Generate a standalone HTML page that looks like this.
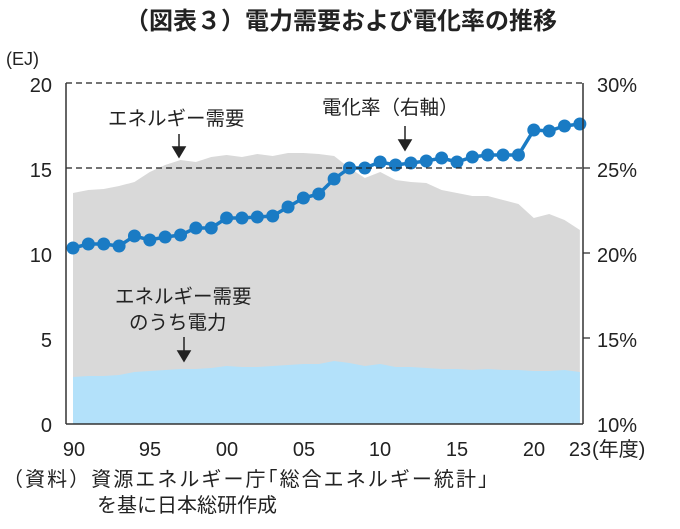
<!DOCTYPE html>
<html><head><meta charset="utf-8"><style>
body{margin:0;background:#fff;}
text{font-family:"Liberation Sans","Noto Sans CJK JP",sans-serif;fill:#222;}
</style></head><body>
<svg id="s" width="680" height="524" xmlns="http://www.w3.org/2000/svg">
<text x="341" y="29" text-anchor="middle" font-size="24" font-weight="bold">（図表３）電力需要および電化率の推移</text>
<text x="6" y="65" font-size="18">(EJ)</text>
<g id="plot"></g>
<line x1="66" y1="83" x2="583" y2="83" stroke="#222" stroke-width="1.3" stroke-dasharray="6,4"/>
<line x1="66" y1="168" x2="583" y2="168" stroke="#222" stroke-width="1.3" stroke-dasharray="6,4"/>
<line x1="66" y1="83" x2="66" y2="424" stroke="#333" stroke-width="1.5"/>
<line x1="583" y1="83" x2="583" y2="424" stroke="#333" stroke-width="1.5"/>
<line x1="66" y1="424" x2="583" y2="424" stroke="#333" stroke-width="1.5"/>
<g font-size="20" text-anchor="end">
<text x="52" y="92">20</text><text x="52" y="177">15</text><text x="52" y="262">10</text><text x="52" y="347">5</text><text x="52" y="432">0</text>
</g>
<g font-size="20">
<text x="597" y="92">30%</text><text x="597" y="177">25%</text><text x="597" y="262">20%</text><text x="597" y="347">15%</text><text x="597" y="432">10%</text>
</g>
<g stroke="#333" stroke-width="1.3">
<line x1="583" y1="168" x2="590" y2="168"/><line x1="583" y1="253" x2="590" y2="253"/><line x1="583" y1="338" x2="590" y2="338"/>
</g>
<g font-size="20" text-anchor="middle">
<text x="74" y="456">90</text><text x="150" y="456">95</text><text x="227" y="456">00</text><text x="304" y="456">05</text><text x="380" y="456">10</text><text x="457" y="456">15</text><text x="534" y="456">20</text><text x="580" y="456">23</text>
</g>
<text x="592" y="456" font-size="20">(年度)</text>
<text x="3" y="486" font-size="20" textLength="485">（資料）資源エネルギー庁｢総合エネルギー統計｣</text>
<text x="97" y="512" font-size="20">を基に日本総研作成</text>
<text x="108" y="125" font-size="19.5">エネルギー需要</text>
<text x="322" y="114" font-size="19.5">電化率（右軸）</text>
<text x="115" y="303" font-size="19.5">エネルギー需要</text>
<text x="129" y="329" font-size="19.5">のうち電力</text>
<g stroke="#222" stroke-width="1.5" fill="#222">
<line x1="179" y1="134" x2="179" y2="148"/><polygon points="173,147 185,147 179,157"/>
<line x1="405" y1="126" x2="405" y2="141"/><polygon points="399,140 411,140 405,150"/>
<line x1="184" y1="337" x2="184" y2="352"/><polygon points="178,351 190,351 184,361"/>
</g>
</svg>
<script>
var X=function(i){return 73+i*15.36;};
var gray=[193,190,189,186,182,172,165,160,162,157,155,157,154,156,153,153,154,156,168,178,172,180,182,183,190,193,196,196,200,204,218,214,220,230];
var blue=[377,376,376,375,372,371,370,369,369,368,366,367,367,366,365,364,364,361,363,366,364,367,367,368,369,369,370,369,370,370,371,371,370,372];
var line=[248,244,244,246,236,240,237,235,228,228,218,218,217,216,207,198,194,179,168,168,162,165,163,161,158,162,157,155,155,155,130,131,126,124];
function area(a,c){var d="M"+X(0)+",424";for(var i=0;i<a.length;i++)d+=" L"+X(i)+","+a[i];d+=" L"+X(a.length-1)+",424Z";return '<path d="'+d+'" fill="'+c+'"/>';}
var h=area(gray,"#d9d9d9")+area(blue,"#b3e1fa");
var d="";for(var i=0;i<line.length;i++)d+=(i?" L":"M")+X(i)+","+line[i];
h+='<path d="'+d+'" fill="none" stroke="#1a7bc4" stroke-width="3.5"/>';
for(var i=0;i<line.length;i++)h+='<circle cx="'+X(i)+'" cy="'+line[i]+'" r="6.5" fill="#1a7bc4"/>';
document.getElementById("plot").innerHTML=h;
</script>
</body></html>
